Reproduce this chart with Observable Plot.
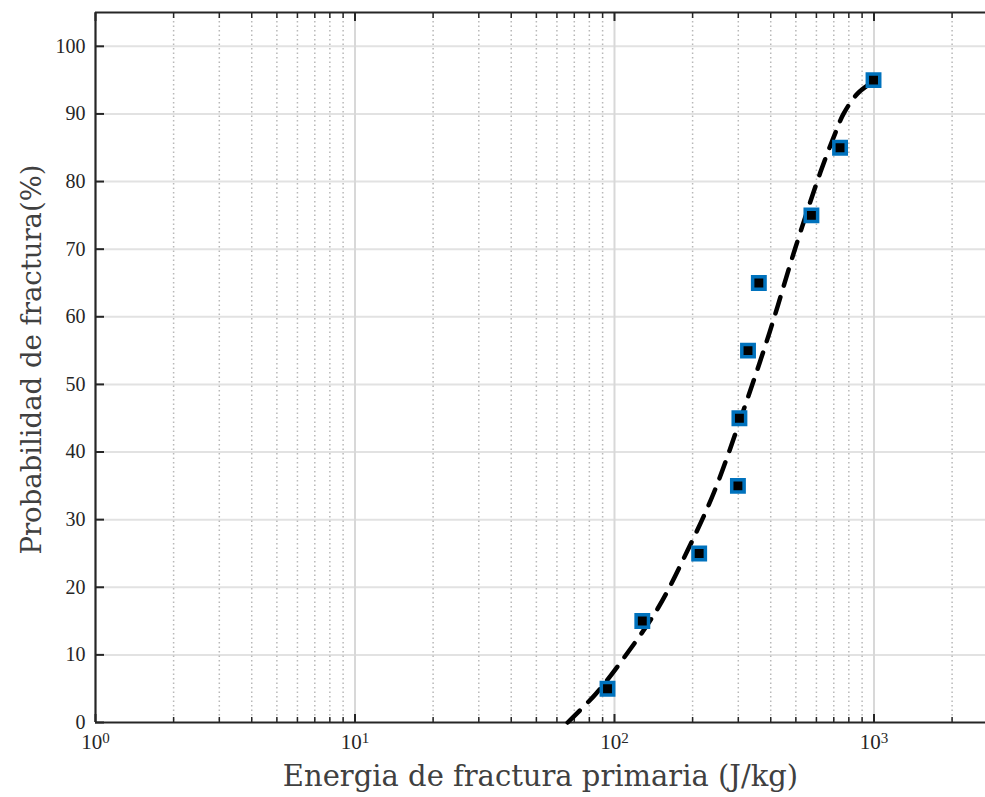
<!DOCTYPE html>
<html><head><meta charset="utf-8">
<script src="https://cdn.jsdelivr.net/npm/d3@7"></script>
<script src="https://cdn.jsdelivr.net/npm/@observablehq/plot@0.6"></script>
<style>body{margin:0;background:#fff} svg{display:block}</style>
</head><body><div id="chart"></div>
<script>
// Measured points
const energy = [94, 128, 212, 299, 303, 327, 360, 574, 740, 996];
const probability = [5, 15, 25, 35, 45, 55, 65, 75, 85, 95];
// Fitted curve
const fitEnergy = [66, 85, 107, 147, 191, 241, 311, 396, 494, 622, 700, 763, 864, 996];
const fitProbability = [0, 4.3, 9.2, 16.9, 25.4, 33.9, 45.7, 57.7, 69.8, 81.4, 86.6, 90.0, 93.0, 94.8];
// Axes
const xMajorTicks = [1, 10, 100, 1000];
const xTickBase = "10";
const xTickExponents = ["0", "1", "2", "3"];
const xMinorTicks = [2,3,4,5,6,7,8,9,20,30,40,50,60,70,80,90,200,300,400,500,600,700,800,900,2000];
const yTicks = [0,10,20,30,40,50,60,70,80,90,100];
const xLabel = "Energia de fractura primaria (J/kg)";
const yLabel = "Probabilidad de fractura(%)";

const points = energy.map((e, i) => ({e, p: probability[i]}));
const fit = fitEnergy.map((e, i) => ({e, p: fitProbability[i]}));
const expOf = new Map(xMajorTicks.map((t, i) => [t, xTickExponents[i]]));
const axisColor = "#262626";
const labelFont = "'DejaVu Serif', serif";

const chart = Plot.plot({
  width: 985, height: 797,
  marginLeft: 95, marginRight: 0, marginTop: 12, marginBottom: 75,
  style: {fontFamily: "'Liberation Serif', serif", fontSize: "20px", color: axisColor, background: "white"},
  x: {type: "log", domain: [1, 2690]},
  y: {domain: [0, 105]},
  marks: [
    Plot.ruleY(yTicks.filter(d => d > 0), {stroke: "#e2e2e2", strokeWidth: 2}),
    Plot.ruleX(xMinorTicks, {stroke: "#b8b8b8", strokeWidth: 1.5, strokeDasharray: "1.5,3"}),
    Plot.ruleX(xMajorTicks.slice(1), {stroke: "#d8d8d8", strokeWidth: 2}),
    // frame lines
    Plot.ruleY([0, 105], {stroke: axisColor, strokeWidth: 2.2}),
    Plot.ruleX([1], {stroke: axisColor, strokeWidth: 2.2}),
    // inward ticks
    Plot.axisX({ticks: xMajorTicks, anchor: "bottom", tickSize: -8, strokeWidth: 2, fill: "none", label: null}),
    Plot.axisX({ticks: xMinorTicks, anchor: "bottom", tickSize: -5, strokeWidth: 1.5, fill: "none", label: null}),
    Plot.axisX({ticks: xMajorTicks, anchor: "top", tickSize: -8, strokeWidth: 2, fill: "none", label: null}),
    Plot.axisX({ticks: xMinorTicks, anchor: "top", tickSize: -5, strokeWidth: 1.5, fill: "none", label: null}),
    Plot.axisY({ticks: yTicks, anchor: "left", tickSize: -9, strokeWidth: 2, fill: "none", label: null}),
    // tick labels
    Plot.axisX({ticks: xMajorTicks, anchor: "bottom", tickSize: 0, tickPadding: 12, tickFormat: d => xTickBase + "^" + expOf.get(d), label: null, fontSize: 21}),
    Plot.axisY({ticks: yTicks, anchor: "left", tickSize: 0, tickPadding: 10, label: null, fontSize: 20}),
    // fit and data
    Plot.line(fit, {x: "e", y: "p", stroke: "black", strokeWidth: 4.5, strokeDasharray: "17,12", curve: "catmull-rom"}),
    Plot.dot(points, {x: "e", y: "p", symbol: "square", r: 7, fill: "black", stroke: "#0072BD", strokeWidth: 3.5}),
    // axis titles
    Plot.text([xLabel], {text: d => d, frameAnchor: "bottom", dy: 63, fontSize: 29, fontFamily: labelFont, fill: "#404040"}),
    Plot.text([yLabel], {text: d => d, frameAnchor: "left", textAnchor: "middle", dx: -63, dy: -8, rotate: -90, fontSize: 27.5, fontFamily: labelFont, fill: "#404040"})
  ]
});
// render exponents as raised, smaller text
d3.select(chart).selectAll("text").filter(function() { return this.textContent.includes("^"); }).each(function() {
  const t = d3.select(this);
  const [base, exp] = t.text().split("^");
  t.text(null);
  t.append("tspan").text(base);
  t.append("tspan").attr("dy", "-0.45em").attr("font-size", "15").text(exp);
});
document.getElementById("chart").append(chart);
</script>
</body></html>
